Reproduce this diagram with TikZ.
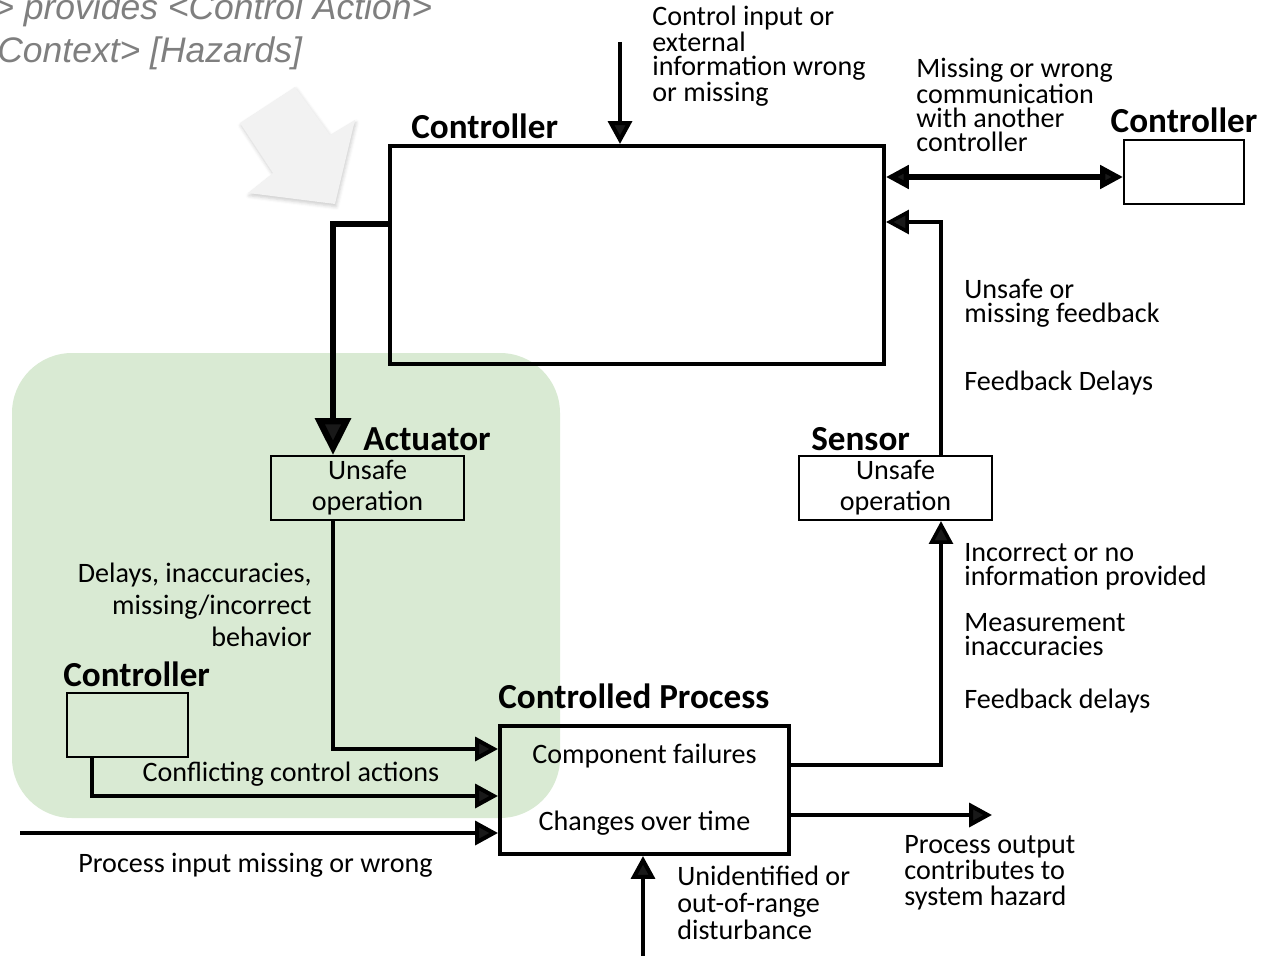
\documentclass[tikz,border=0pt]{standalone}
\usepackage{fontspec}
\setmainfont{Carlito}
\newfontfamily\arialfont{Liberation Sans}
\usepackage{tikz}
\usetikzlibrary{arrows.meta,positioning,shadows.blur}

\definecolor{groupgreen}{RGB}{217,234,211}
\definecolor{hintgray}{RGB}{127,127,127}
\definecolor{pointergray}{RGB}{242,242,242}

\begin{document}
\begin{tikzpicture}[
    x=0.02cm, y=-0.02cm,
    unitbox/.style={draw, line width=1.2pt, minimum width=3.86cm, minimum height=1.28cm,
                    align=center, inner sep=0pt, font=\fontsize{16pt}{17.6pt}\selectfont},
    bigbox/.style={draw, line width=2.3pt, inner sep=0pt},
    boxtitle/.style={font=\bfseries\fontsize{20pt}{24pt}\selectfont, inner sep=0pt, anchor=base west},
    remark/.style={font=\fontsize{16pt}{13.6pt}\selectfont, align=left, inner sep=0pt, anchor=north west},
    hint/.style={font=\arialfont\itshape\fontsize{20.2pt}{24pt}\selectfont, text=hintgray,
                 inner sep=0pt, anchor=base west},
    arr/.style={-{Triangle[length=13pt, width=13.5pt]}, line width=2.3pt},
    fb/.style={arr, line width=2pt},
    cmd/.style={-{Triangle[length=21pt, width=20pt]}, line width=3.6pt},
    link/.style={{Triangle[length=13pt, width=13pt]}-{Triangle[length=13pt, width=13pt]}, line width=3pt}
  ]
    \useasboundingbox (0,0) rectangle (1267,956);

    % shaded group around actuator and other controller
    \fill[groupgreen, rounded corners=1.2cm] (12,353) rectangle (560,818);

    % hint text and pointer
    \node[hint] (hint1) at (-7,20) {> provides <Control Action>};
    \node[hint] (hint2) at (-3,63) {Context> [Hazards]};
    \fill[pointergray, blur shadow={shadow xshift=0.6pt, shadow yshift=-1.5pt,
          shadow blur radius=2pt, shadow opacity=20}]
      (240,123) -- (295,87) -- (330,135) -- (355,120) -- (335,204)
      -- (248,193) -- (273,173) -- cycle;

    % boxes
    \node[bigbox, minimum width=9.88cm, minimum height=4.36cm] (ctrl) at (637,255) {};
    \node[unitbox, minimum width=2.4cm] (ctrlR) at (1184,172) {};
    \node[unitbox, minimum width=2.42cm] (ctrlL) at (127.5,725) {};
    \node[unitbox] (act) at (367.5,488) {Unsafe\\operation};
    \node[unitbox] (sens) at (895.5,488) {Unsafe\\operation};
    \node[bigbox, minimum width=5.78cm, minimum height=2.56cm, align=center,
          font=\fontsize{16pt}{38pt}\selectfont] (proc) at (644.5,790)
          {Component failures\\Changes over time};

    % titles
    \node[boxtitle] (ctrlT) at ([shift={(23,-5)}]ctrl.north west) {Controller};
    \node[boxtitle, anchor=base] (ctrlRT) at ([shift={(0,-6)}]ctrlR.north) {Controller};
    \node[boxtitle] (ctrlLT) at ([shift={(-3,-5)}]ctrlL.north west) {Controller};
    \node[boxtitle] (actT) at ([shift={(93,-4)}]act.north west) {Actuator};
    \node[boxtitle] (sensT) at ([shift={(13,-4)}]sens.north west) {Sensor};
    \node[boxtitle] (procT) at ([shift={(0,-15)}]proc.north west) {Controlled Process};

    % loose ends
    \coordinate (cin) at (620,42);
    \coordinate (din) at (643,960);
    \coordinate (pin) at (20,833);
    \coordinate (pout) at (992,815);
    \coordinate (linkR) at ([shift={(0,5)}]ctrlR.west);
    \coordinate (fbtop) at ([shift={(0,-33)}]ctrl.east);

    % connectors
    \draw[arr] (cin) -- (cin |- ctrl.north);
    \draw[link] (ctrl.east |- linkR) -- (linkR);
    \draw[fb] ([shift={(45.5,0)}]sens.north) |- (fbtop);
    \draw[fb] ([shift={(0,-25)}]proc.east) -| ([shift={(45.5,0)}]sens.south);
    \draw[cmd] ([shift={(0,-31)}]ctrl.west) -| ([shift={(-34.5,0)}]act.north);
    \draw[arr] ([shift={(-34.5,0)}]act.south) |- ([shift={(0,-41)}]proc.west);
    \draw[arr] ([shift={(-35.5,0)}]ctrlL.south) |- node[pos=0.745, above=1pt, font=\fontsize{16pt}{13.6pt}\selectfont] (conflL)
      {Conflicting control actions} ([shift={(0,6)}]proc.west);
    \draw[arr] (pin) -- (pin -| proc.west) node[midway, below=7pt, xshift=-2pt, font=\fontsize{16pt}{13.6pt}\selectfont] (pinL)
      {Process input missing or wrong};
    \draw[arr] (proc.east |- pout) -- (pout);
    \draw[arr] (din) -- (din |- proc.south);

    % labels
    \node[remark] (cinL) at (652,6) {Control input or\\external\\information wrong\\or missing};
    \node[remark] (linkL) at (916,58) {Missing or wrong\\communication\\with another\\controller};
    \node[remark] (fbL1) at (964,279) {Unsafe or\\missing feedback};
    \node[remark] (fbL2) at (964,371) {Feedback Delays};
    \node[remark] (snL1) at (964,543) {Incorrect or no\\information provided};
    \node[remark] (snL2) at (964,613) {Measurement\\inaccuracies};
    \node[remark] (snL3) at (964,689) {Feedback delays};
    \node[remark, anchor=north east, align=right, font=\fontsize{16pt}{18.1pt}\selectfont] (actL)
      at (312,563) {Delays, inaccuracies,\\missing/incorrect\\behavior};
    \node[remark, font=\fontsize{16pt}{14.7pt}\selectfont] (poutL) at (904,835)
      {Process output\\contributes to\\system hazard};
    \node[remark, font=\fontsize{16pt}{15.3pt}\selectfont] (dinL) at (677,866)
      {Unidentified or\\out-of-range\\disturbance};
\end{tikzpicture}
\end{document}
